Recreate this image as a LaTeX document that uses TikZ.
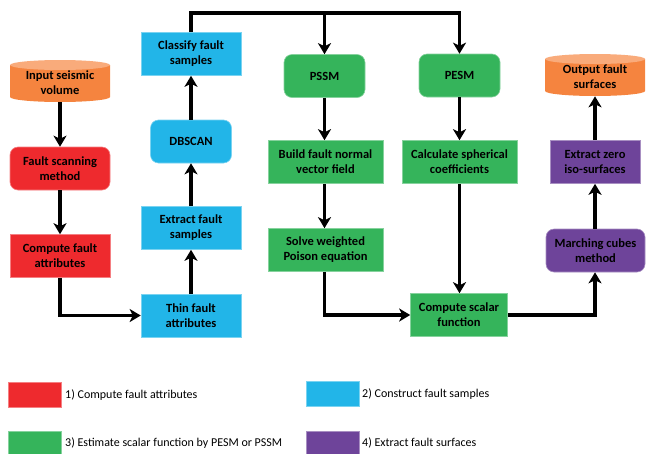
\documentclass[tikz,border=0pt]{standalone}
\usepackage{fontspec}
\setmainfont{Carlito}
\usetikzlibrary{arrows.meta}
\definecolor{cred}{HTML}{EE2A2E}
\definecolor{cblue}{HTML}{22B5E8}
\definecolor{cgreen}{HTML}{35B45B}
\definecolor{cpurple}{HTML}{6E449A}
\definecolor{corange}{HTML}{F5843F}
\definecolor{corangetop}{HTML}{F9AB7B}
\tikzset{
  box/.style={minimum width=100pt, minimum height=43pt, inner sep=1pt, align=center,
    font=\bfseries\fontsize{12.5}{15}\selectfont, line width=0.6pt},
  redbox/.style={box, fill=cred, draw=cred!60!white},
  bluebox/.style={box, fill=cblue, draw=cblue!60!white},
  greenbox/.style={box, fill=cgreen, draw=cgreen!60!white},
  purplebox/.style={box, fill=cpurple, draw=cpurple!60!white},
  rnd/.style={rounded corners=8pt},
  cyl/.style={box, minimum height=46pt, path picture={
    \fill[corange] ([yshift=-5pt]path picture bounding box.north west) --
      ([yshift=9pt]path picture bounding box.south west)
      arc[start angle=180,end angle=360,x radius=50pt,y radius=5pt] --
      ([yshift=-5pt]path picture bounding box.north east) -- cycle;
    \fill[corangetop] ([yshift=-5pt]path picture bounding box.north) ellipse[x radius=50pt, y radius=5pt];
  }},
  arr/.style={line width=3.6pt, -{Stealth[length=11pt,width=13pt,inset=3pt]}},
  legbox/.style={minimum width=53pt, minimum height=25pt, inner sep=0pt},
  legtext/.style={anchor=west, inner sep=0pt, font=\fontsize{12}{13}\selectfont},
}
\begin{document}
\begin{tikzpicture}[x=1pt,y=-1pt]
\useasboundingbox (0,0) rectangle (647,453);
% left column
\node[cyl] (in) at (60,83) {Input seismic\\volume};
\node[redbox,rnd] (fs) at (60,168.5) {Fault scanning\\method};
\node[redbox] (cfa) at (60,256) {Compute fault\\attributes};
% blue column
\node[bluebox] (thin) at (191,315.5) {Thin fault\\attributes};
\node[bluebox] (ext) at (191,228) {Extract fault\\samples};
\node[bluebox,rnd,minimum width=81pt] (db) at (191,141.5) {DBSCAN};
\node[bluebox] (cl) at (191,54) {Classify fault\\samples};
% green
\node[greenbox,rnd,minimum width=81pt] (pssm) at (324.5,76) {PSSM};
\node[greenbox,minimum width=115pt] (bf) at (325.5,162) {Build fault normal\\vector field};
\node[greenbox,minimum width=115pt] (sw) at (325.5,250) {Solve weighted\\Poison equation};
\node[greenbox,rnd,minimum width=81pt] (pesm) at (459.5,75.5) {PESM};
\node[greenbox,minimum width=115pt] (cs) at (459.5,162) {Calculate spherical\\coefficients};
\node[greenbox,minimum width=97pt] (sc) at (459,315) {Compute scalar\\function};
% purple / output
\node[purplebox,rnd,minimum width=99pt] (mc) at (595.5,250.5) {Marching cubes\\method};
\node[purplebox,minimum width=90pt] (ez) at (595,162) {Extract zero\\iso-surfaces};
\node[cyl] (out) at (595,77) {Output fault\\surfaces};
% connectors
\draw[arr] ([yshift=4pt]in.south) -- (fs);
\draw[arr] (fs) -- (cfa);
\draw[arr] (cfa.south) |- (thin.west);
\draw[arr] (thin) -- (ext);
\draw[arr] (ext) -- (db);
\draw[arr] (db) -- (cl);
\coordinate (t) at (191,13);
\draw[arr] (cl.north) -- (t) -| (pesm.north);
\draw[arr] (t -| pssm.north) -- (pssm.north);
\draw[arr] (pssm) -- (pssm |- bf.north);
\draw[arr] (bf.south -| pssm) -- (sw.north -| pssm);
\draw[arr] (sw.south -| pssm) |- (sc.west);
\draw[arr] (pesm) -- (pesm |- cs.north);
\draw[arr] (cs.south) -- (cs.south |- sc.north);
\draw[arr] (sc.east) -| (mc.south -| out);
\draw[arr] (mc.north -| out) -- (ez.south -| out);
\draw[arr] (ez.north -| out) -- ([yshift=4pt]out.south);
% legend
\node[legbox, fill=cred, draw=cred!60!white] (l1) at (35,394.5) {};
\node[legtext] (t1) at (65,395) {1) Compute fault attributes};
\node[legbox, fill=cblue, draw=cblue!60!white] (l2) at (332.5,393.5) {};
\node[legtext] (t2) at (362,394) {2) Construct fault samples};
\node[legbox, fill=cgreen, draw=cgreen!60!white] (l3) at (35,443.5) {};
\node[legtext] (t3) at (65,443) {3) Estimate scalar function by PESM or PSSM};
\node[legbox, fill=cpurple, draw=cpurple!60!white] (l4) at (332.5,443.5) {};
\node[legtext] (t4) at (362,443) {4) Extract fault surfaces};
\end{tikzpicture}
\end{document}
